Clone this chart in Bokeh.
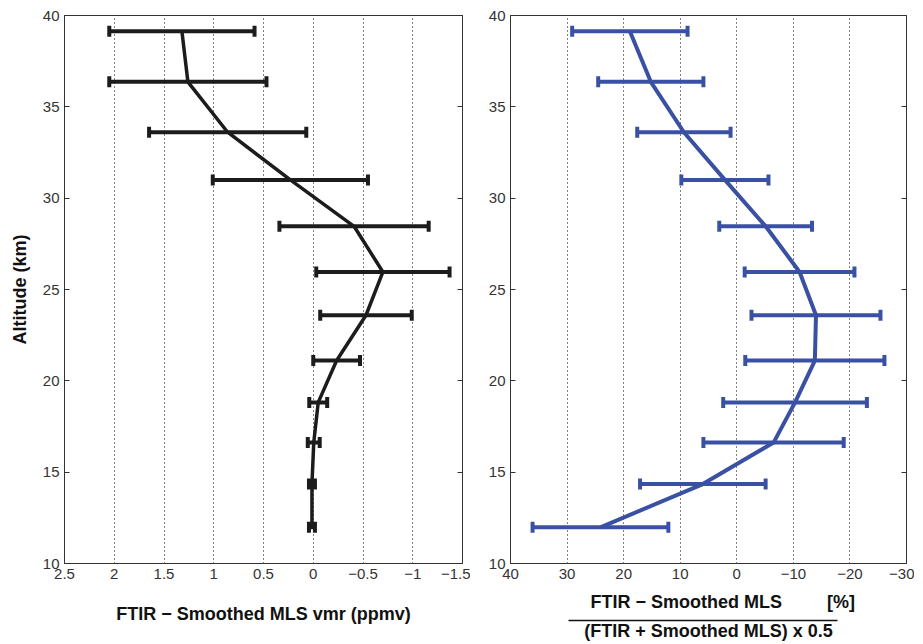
from bokeh.plotting import figure
from bokeh.models import (Range1d, FixedTicker, LinearAxis, Whisker, TeeHead,
                          ColumnDataSource, Title)
from bokeh.layouts import row
from bokeh.embed import file_html
from bokeh.resources import INLINE

# ---------------- data ----------------
altitude = [39.14, 36.37, 33.61, 31.0, 28.46, 25.96, 23.59, 21.11, 18.82, 16.62, 14.35, 11.98]

vmr_diff = [1.32, 1.26, 0.86, 0.23, -0.41, -0.70, -0.53, -0.235, -0.05, -0.005, 0.013, 0.013]
vmr_err = [0.73, 0.79, 0.79, 0.78, 0.75, 0.67, 0.46, 0.235, 0.09, 0.06, 0.03, 0.03]

pct_diff = [18.9, 15.2, 9.35, 2.1, -5.1, -11.1, -14.0, -13.8, -10.3, -6.5, 6.0, 24.1]
pct_err = [10.2, 9.3, 8.25, 7.7, 8.2, 9.7, 11.4, 12.3, 12.7, 12.4, 11.1, 12.0]

left_ticks = [2.5, 2, 1.5, 1, 0.5, 0, -0.5, -1, -1.5]
left_tick_labels = ["2.5", "2", "1.5", "1", "0.5", "0", "\u22120.5", "\u22121", "\u22121.5"]
right_ticks = [40, 30, 20, 10, 0, -10, -20, -30]
right_tick_labels = ["40", "30", "20", "10", "0", "\u221210", "\u221220", "\u221230"]
alt_ticks = [10, 15, 20, 25, 30, 35, 40]

FONT = "Liberation Sans"
TICK_COLOR = "#333333"
BLACK = "#1c1c1c"
BLUE = "#3a51a3"
LABEL_SIZE = "18px"


def style(p, xticks, xlabels):
    p.xaxis.ticker = FixedTicker(ticks=xticks)
    p.xaxis.major_label_overrides = {t: l for t, l in zip(xticks, xlabels)}
    p.yaxis.ticker = FixedTicker(ticks=alt_ticks)
    for ax in p.xaxis + p.yaxis:
        ax.major_label_text_font = FONT
        ax.major_label_text_font_size = "15px"
        ax.major_label_text_color = TICK_COLOR
        ax.major_tick_in = 5
        ax.major_tick_out = 0
        ax.minor_tick_in = 0
        ax.minor_tick_out = 0
        ax.axis_line_color = "#333333"
        ax.major_tick_line_color = "#333333"
        ax.axis_label_text_font = FONT
        ax.axis_label_text_font_style = "bold"
        ax.axis_label_text_font_size = LABEL_SIZE
        ax.axis_label_text_color = "#111111"
        ax.major_label_standoff = 5
    p.xaxis.major_tick_in = 0
    p.xgrid.ticker = FixedTicker(ticks=xticks[1:-1])
    p.xgrid.grid_line_color = "#000000"
    p.xgrid.grid_line_dash = "1 3"
    p.xgrid.grid_line_width = 1
    p.ygrid.grid_line_color = None
    p.outline_line_color = "#333333"
    p.outline_line_width = 1
    p.background_fill_color = "white"
    p.border_fill_color = "white"
    # right-side ticks (no labels)
    rax = LinearAxis(ticker=FixedTicker(ticks=alt_ticks), major_tick_in=5, major_tick_out=0,
                     minor_tick_in=0, minor_tick_out=0, major_label_text_color=None,
                     major_label_text_font_size="1px", major_label_standoff=0,
                     axis_line_color="#333333", major_tick_line_color="#333333")
    p.add_layout(rax, "right")


# ---------------- left panel ----------------
p1 = figure(x_range=Range1d(2.5, -1.5), y_range=Range1d(10, 40),
            frame_width=398, frame_height=548,
            min_border_left=64, min_border_right=8, min_border_top=15, min_border_bottom=80,
            output_backend="svg", toolbar_location=None)
style(p1, left_ticks, left_tick_labels)
p1.yaxis[0].axis_label = "Altitude (km)"
p1.yaxis[0].axis_label_standoff = 10
p1.xaxis.axis_label = "FTIR \u2212 Smoothed MLS vmr (ppmv)"
p1.xaxis.axis_label_standoff = 22

src1 = ColumnDataSource(dict(
    alt=altitude, x=vmr_diff,
    lo=[c - e for c, e in zip(vmr_diff, vmr_err)],
    hi=[c + e for c, e in zip(vmr_diff, vmr_err)]))
p1.line("x", "alt", source=src1, line_color=BLACK, line_width=3.5)
w1 = Whisker(source=src1, base="alt", lower="lo", upper="hi", dimension="width",
             line_color=BLACK, line_width=4, level="glyph",
             upper_head=TeeHead(size=11, line_color=BLACK, line_width=4),
             lower_head=TeeHead(size=11, line_color=BLACK, line_width=4))
p1.add_layout(w1)

# ---------------- right panel ----------------
p2 = figure(x_range=Range1d(40, -30), y_range=Range1d(10, 40),
            frame_width=396, frame_height=548,
            min_border_left=40, min_border_right=8, min_border_top=15, min_border_bottom=80,
            output_backend="svg", toolbar_location=None)
style(p2, right_ticks, right_tick_labels)

src2 = ColumnDataSource(dict(
    alt=altitude, x=pct_diff,
    lo=[c - e for c, e in zip(pct_diff, pct_err)],
    hi=[c + e for c, e in zip(pct_diff, pct_err)]))
p2.line("x", "alt", source=src2, line_color=BLUE, line_width=4)
w2 = Whisker(source=src2, base="alt", lower="lo", upper="hi", dimension="width",
             line_color=BLUE, line_width=4, level="glyph",
             upper_head=TeeHead(size=11, line_color=BLUE, line_width=4),
             lower_head=TeeHead(size=11, line_color=BLUE, line_width=4))
p2.add_layout(w2)

# fraction-style x label: numerator as a title, fraction bar + denominator as an extra axis
num = Title(text="FTIR \u2212 Smoothed MLS" + "\u00a0" * 9 + "[%]", align="left", offset=80,
            text_font=FONT, text_font_style="bold", text_font_size=LABEL_SIZE,
            text_color="#111111", standoff=17)
p2.add_layout(num, "below")
den_axis = LinearAxis(ticker=FixedTicker(ticks=[]), bounds=(-17.8, 29.8),
                      major_tick_in=0, major_tick_out=0, minor_tick_in=0, minor_tick_out=0,
                      major_label_text_color=None, major_label_text_font_size="1px",
                      major_label_standoff=0,
                      axis_line_color="#111111", axis_line_width=1.5,
                      axis_label="(FTIR + Smoothed MLS) x 0.5", axis_label_standoff=0,
                      axis_label_text_font=FONT, axis_label_text_font_style="bold",
                      axis_label_text_font_size=LABEL_SIZE, axis_label_text_color="#111111")
p2.add_layout(den_axis, "below")

layout = row(p1, p2)
open("out.html", "w").write(file_html(layout, INLINE))
